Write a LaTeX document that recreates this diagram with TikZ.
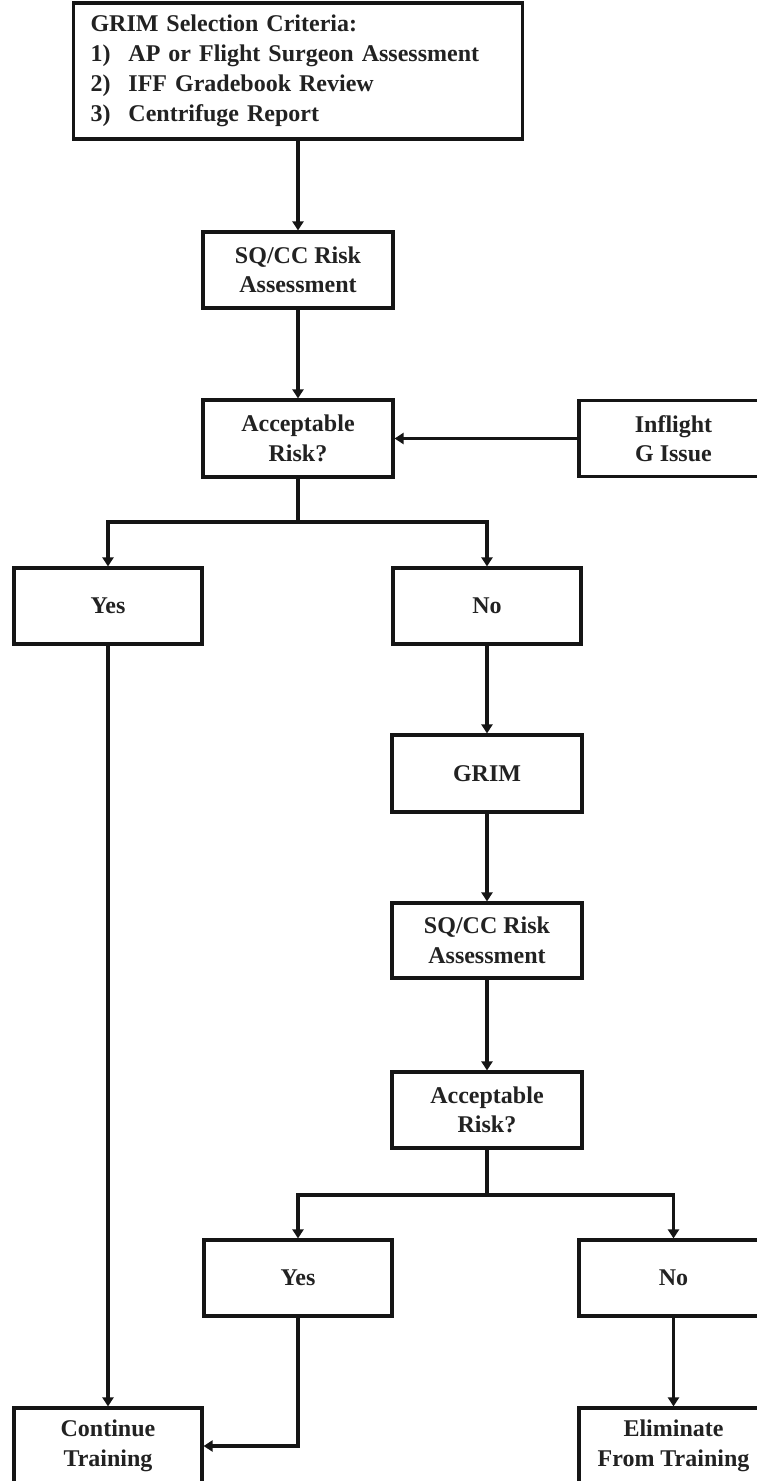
\documentclass[tikz,border=0pt]{standalone}
\usepackage{fontspec}
\setmainfont{Liberation Serif}
\usetikzlibrary{arrows.meta}
\definecolor{linec}{HTML}{151515}
\definecolor{textc}{HTML}{222222}
\begin{document}
\begin{tikzpicture}[x=1pt,y=-1pt,
  box/.style={draw=linec, line width=3.2pt, inner sep=0pt, align=center, text=textc,
    font=\fontsize{24}{29.5}\selectfont\bfseries},
  conn/.style={draw=linec, line width=3.2pt, -{Triangle[length=9pt,width=11pt]}},
  plain/.style={draw=linec, line width=3.2pt}]
\useasboundingbox (0,0) rectangle (757,1481);
\clip (0,0) rectangle (757,1481);
\fill[white] (0,0) rectangle (757,1481);

% nodes
\node[box, minimum width=449pt, minimum height=136pt, text width=415pt, align=left,
  font=\fontsize{24}{30}\selectfont\bfseries] (top) at (298,71)
  {GRIM Selection Criteria:\\
   \makebox[38pt][l]{1)}AP or Flight Surgeon Assessment\\
   \makebox[38pt][l]{2)}IFF Gradebook Review\\
   \makebox[38pt][l]{3)}Centrifuge Report};
\node[box, minimum width=190pt, minimum height=76pt] (sq1) at (298,270) {SQ/CC Risk\\Assessment};
\node[box, minimum width=190pt, minimum height=77pt] (acc1) at (298,438.5) {Acceptable\\Risk?};
\node[box, minimum width=189pt, minimum height=76pt] (inflight) at (673.5,438.5) {Inflight\\G Issue};
\node[box, minimum width=188pt, minimum height=76pt] (yes1) at (108,606) {Yes};
\node[box, minimum width=188pt, minimum height=76pt] (no1) at (487,606) {No};
\node[box, minimum width=190pt, minimum height=77pt] (grim) at (487,773.5) {GRIM};
\node[box, minimum width=190pt, minimum height=75pt] (sq2) at (487,940.5) {SQ/CC Risk\\Assessment};
\node[box, minimum width=190pt, minimum height=76pt] (acc2) at (487,1110) {Acceptable\\Risk?};
\node[box, minimum width=188pt, minimum height=76pt] (yes2) at (298,1278) {Yes};
\node[box, minimum width=189pt, minimum height=76pt] (no2) at (673.5,1278) {No};
\node[box, minimum width=188pt, minimum height=76pt] (cont) at (108,1446) {Continue\\Training};
\node[box, minimum width=189pt, minimum height=76pt] (elim) at (673.5,1446) {Eliminate\\From Training};

\coordinate (s1) at (298,522);
\coordinate (s2) at (487,1195);

% connectors
\draw[conn] (top.south) -- (sq1.north);
\draw[conn] (sq1.south) -- (acc1.north);
\draw[conn] (inflight.west) -- (acc1.east);
\draw[plain] (acc1.south) -- (s1);
\draw[conn] (s1) -| (yes1.north);
\draw[conn] (s1) -| (no1.north);
\draw[conn] (yes1.south) -- (yes1.south |- cont.north);
\draw[conn] (no1.south) -- (grim.north);
\draw[conn] (grim.south) -- (sq2.north);
\draw[conn] (sq2.south) -- (acc2.north);
\draw[plain] (acc2.south) -- (s2);
\draw[conn] (s2) -| (yes2.north);
\draw[conn] (s2) -| (no2.north);
\draw[conn] (yes2.south) |- (cont.east);
\draw[conn] (no2.south) -- (elim.north);
\end{tikzpicture}
\end{document}
